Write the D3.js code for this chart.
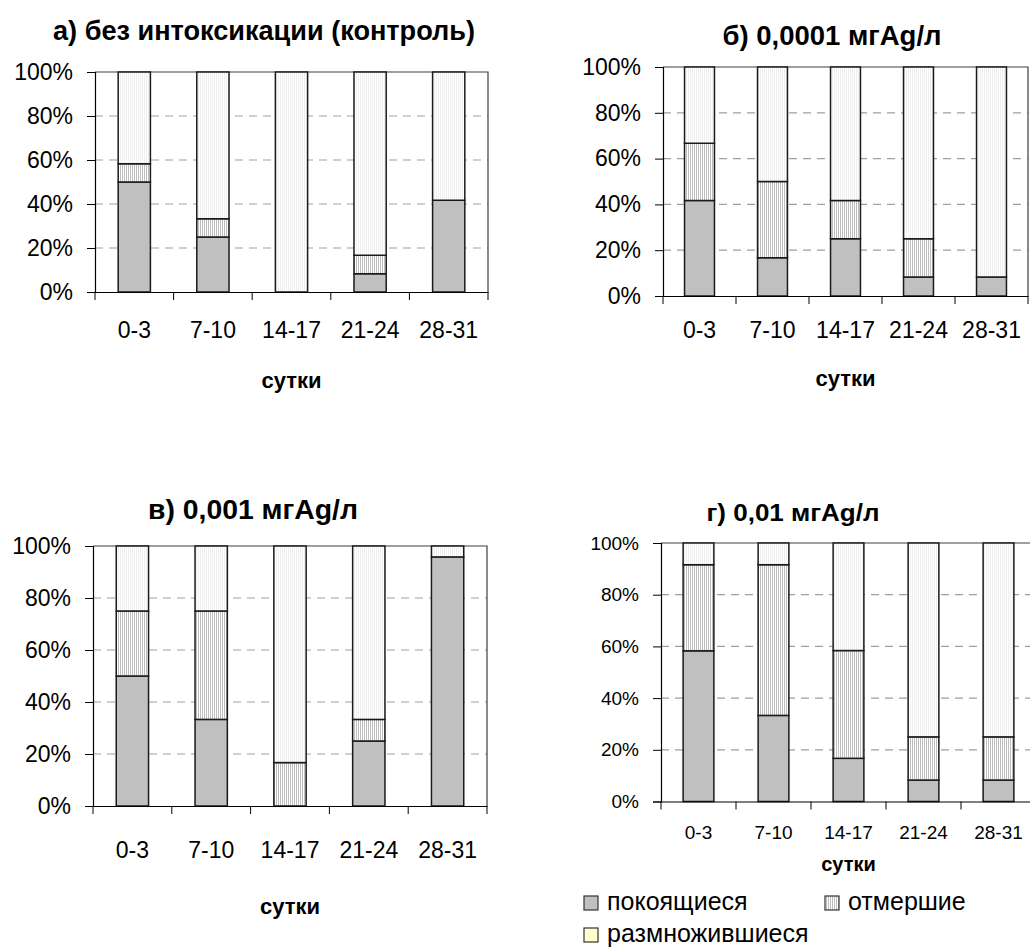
<!DOCTYPE html>
<html>
<head>
<meta charset="utf-8">
<script src="https://cdn.jsdelivr.net/npm/d3@7"></script>
<style>
  body { margin: 0; background: #fff; }
  svg { display: block; font-family: "Liberation Sans", Arial, sans-serif; }
  .title { font-family: "Liberation Sans Narrow", "Arial Narrow", "Liberation Sans", sans-serif; font-weight: bold; }
</style>
</head>
<body>
<svg id="chart" width="1030" height="950"></svg>
<script>
const categories = ["0-3", "7-10", "14-17", "21-24", "28-31"];
const seriesNames = ["покоящиеся", "отмершие", "размножившиеся"];
const percentTicks = [0, 20, 40, 60, 80, 100];

// а) контроль
const restingA = [50, 25, 0, 8.3, 41.7];
const deadA = [8.3, 8.3, 0, 8.4, 0];
const multipliedA = [41.7, 66.7, 100, 83.3, 58.3];
// б) 0,0001
const restingB = [41.7, 16.7, 25, 8.3, 8.3];
const deadB = [25, 33.3, 16.7, 16.7, 0];
const multipliedB = [33.3, 50, 58.3, 75, 91.7];
// в) 0,001
const restingC = [50, 33.3, 0, 25, 95.8];
const deadC = [25, 41.7, 16.7, 8.3, 0];
const multipliedC = [25, 25, 83.3, 66.7, 4.2];
// г) 0,01
const restingD = [58.3, 33.3, 16.7, 8.3, 8.3];
const deadD = [33.3, 58.3, 41.7, 16.7, 16.7];
const multipliedD = [8.4, 8.4, 41.6, 75, 75];

const svg = d3.select("#chart");

// штриховки
const defs = svg.append("defs");
function addPattern(id, color) {
    const p = defs.append("pattern")
        .attr("id", id)
        .attr("width", 2)
        .attr("height", 4)
        .attr("patternUnits", "userSpaceOnUse");
    p.append("rect").attr("width", 2).attr("height", 4).attr("fill", "#fff");
    p.append("rect").attr("width", 1).attr("height", 4).attr("fill", color);
}
addPattern("hatchDead", "#bdbdbd");
addPattern("hatchMult", "#efefef");
const fills = ["#c0c0c0", "url(#hatchDead)", "url(#hatchMult)"];

const panels = [
    {title: "а) без интоксикации (контроль)", data: [restingA, deadA, multipliedA],
     left: 95, right: 488, top: 72, bottom: 292, font: 23, titleX: 264, titleY: 40, titleSize: 28, titleW: 422,
     labelPad: 30, captionY: 388, captionSize: 22},
    {title: "б) 0,0001 мгAg/л", data: [restingB, deadB, multipliedB],
     left: 663, right: 1028, top: 67, bottom: 296, font: 23, titleX: 832, titleY: 45, titleSize: 28, titleW: 219,
     labelPad: 26, captionY: 386, captionSize: 22},
    {title: "в) 0,001 мгAg/л", data: [restingC, deadC, multipliedC],
     left: 93, right: 487, top: 546, bottom: 806, font: 23, titleX: 253, titleY: 519, titleSize: 28, titleW: 210,
     labelPad: 36, captionY: 914, captionSize: 22},
    {title: "г) 0,01 мгAg/л", data: [restingD, deadD, multipliedD],
     left: 661, right: 1036, top: 543, bottom: 801.5, font: 19, titleX: 793, titleY: 521, titleSize: 24, titleW: 173,
     labelPad: 24, captionY: 871, captionSize: 20}
];

function drawPanel(cfg) {
    const g = svg.append("g");
    const x = d3.scaleBand().domain(categories).range([cfg.left, cfg.right]).paddingInner(0.59).paddingOuter(0.295);
    const y = d3.scaleLinear().domain([0, 100]).range([cfg.bottom, cfg.top]);

    // сетка
    g.selectAll(".grid")
        .data(percentTicks.filter(d => d > 0 && d < 100))
        .join("line")
        .attr("x1", cfg.left).attr("x2", cfg.right)
        .attr("y1", d => y(d)).attr("y2", d => y(d))
        .attr("stroke", "#a0a0a0")
        .attr("stroke-width", 1.2)
        .attr("stroke-dasharray", "8,6");

    // рамка сверху и справа
    g.append("path")
        .attr("d", `M${cfg.left},${y(100)}H${cfg.right}V${cfg.bottom}`)
        .attr("fill", "none")
        .attr("stroke", "#404040")
        .attr("stroke-width", 1.2);

    // столбики
    const rows = categories.map((c, i) => {
        const row = {cat: c};
        seriesNames.forEach((s, j) => row[s] = cfg.data[j][i]);
        return row;
    });
    const stacked = d3.stack().keys(seriesNames)(rows);
    stacked.forEach((layer, j) => {
        g.selectAll(".seg" + j)
            .data(layer.filter(d => d[1] - d[0] > 0))
            .join("rect")
            .attr("x", d => x(d.data.cat))
            .attr("width", x.bandwidth())
            .attr("y", d => y(d[1]))
            .attr("height", d => y(d[0]) - y(d[1]))
            .attr("fill", fills[j])
            .attr("stroke", "#1a1a1a")
            .attr("stroke-width", 1.5);
    });

    // ось y
    const yAxis = g.append("g")
        .attr("transform", `translate(${cfg.left},0)`)
        .call(d3.axisLeft(y).tickValues(percentTicks).tickFormat(d => d + "%").tickSize(8).tickPadding(14));
    yAxis.selectAll("text").attr("font-size", cfg.font).attr("fill", "#000").attr("font-family", "Liberation Sans, Arial, sans-serif");
    yAxis.selectAll("line").attr("stroke", "#000");
    yAxis.select(".domain").attr("stroke", "#000").attr("stroke-width", 1.2);

    // ось x
    const xAxis = g.append("g")
        .attr("transform", `translate(0,${cfg.bottom})`)
        .call(d3.axisBottom(x).tickSize(0).tickPadding(cfg.labelPad));
    xAxis.selectAll("text").attr("font-size", cfg.font).attr("fill", "#000").attr("font-family", "Liberation Sans, Arial, sans-serif");
    xAxis.select(".domain").attr("stroke", "#000").attr("stroke-width", 1.2);

    // деления между категориями
    const bounds = categories.map(c => x(c) - x.step() * x.paddingOuter()).concat([cfg.right]);
    g.selectAll(".xtick")
        .data(bounds)
        .join("line")
        .attr("x1", d => d).attr("x2", d => d)
        .attr("y1", cfg.bottom).attr("y2", cfg.bottom + 8)
        .attr("stroke", "#000");

    // подписи
    g.append("text")
        .attr("class", "title")
        .attr("x", cfg.titleX)
        .attr("y", cfg.titleY)
        .attr("text-anchor", "middle")
        .attr("font-size", cfg.titleSize)
        .attr("textLength", cfg.titleW)
        .attr("lengthAdjust", "spacingAndGlyphs")
        .text(cfg.title);

    g.append("text")
        .attr("x", (cfg.left + cfg.right) / 2)
        .attr("y", cfg.captionY)
        .attr("text-anchor", "middle")
        .attr("font-size", cfg.captionSize)
        .attr("font-weight", "bold")
        .text("сутки");
}

panels.forEach(drawPanel);

// легенда
const legendFills = ["#c0c0c0", "url(#hatchDead)", "#ffffcc"];
const legendPos = [[584, 896], [825, 896], [584, 928]];
const legend = svg.append("g");
seriesNames.forEach((name, i) => {
    const [lx, ly] = legendPos[i];
    legend.append("rect")
        .attr("x", lx).attr("y", ly)
        .attr("width", 14).attr("height", 14)
        .attr("fill", legendFills[i])
        .attr("stroke", "#333")
        .attr("stroke-width", 1.2);
    legend.append("text")
        .attr("x", lx + 23)
        .attr("y", ly + 14)
        .attr("font-size", 25)
        .text(name);
});
</script>
</body>
</html>
